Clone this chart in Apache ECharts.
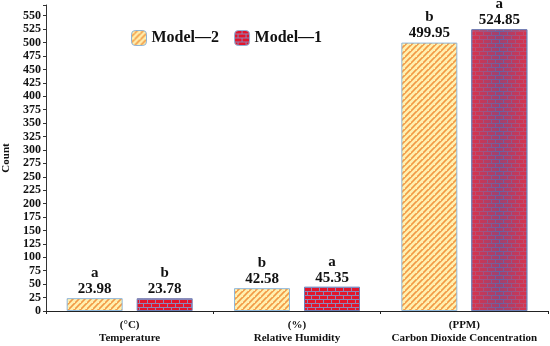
<!DOCTYPE html>
<html><head><meta charset="utf-8">
<script src="https://cdn.jsdelivr.net/npm/echarts@6/dist/echarts.min.js"></script>
<style>html,body{margin:0;padding:0;background:#fff}#c{width:550px;height:346px}</style>
</head><body><div id="c"></div>
<script>
var categories = ['(°C)\nTemperature', '(%)\nRelative Humidity', '(PPM)\nCarbon Dioxide Concentration'];
var model2 = [23.98, 42.58, 499.95];
var model1 = [23.78, 45.35, 524.85];
var letters2 = ['a', 'b', 'b'];
var letters1 = ['b', 'a', 'a'];
var seriesNames = ['Model\u20142', 'Model\u20141'];

function hatchPattern() {
  var c = document.createElement('canvas'); c.width = 6; c.height = 6;
  var g = c.getContext('2d');
  g.fillStyle = '#fff0b0'; g.fillRect(0, 0, 6, 6);
  g.strokeStyle = '#f29a45'; g.lineWidth = 1.6;
  g.beginPath();
  g.moveTo(-1, 7); g.lineTo(7, -1);
  g.moveTo(-1, 1); g.lineTo(1, -1);
  g.moveTo(5, 7); g.lineTo(7, 5);
  g.stroke();
  g.fillStyle = '#fff0b0';
  g.fillRect(2, 2, 1, 1);
  return {image: c, repeat: 'repeat'};
}
function brickPattern(brick, mortar) {
  var c = document.createElement('canvas'); c.width = 8; c.height = 8;
  var g = c.getContext('2d');
  g.fillStyle = mortar; g.fillRect(0, 0, 8, 8);
  g.fillStyle = brick;
  g.fillRect(0, 0, 7, 3);
  g.fillRect(0, 4, 3, 3); g.fillRect(4, 4, 4, 3);
  return {image: c, repeat: 'repeat'};
}
var font = 'Liberation Serif';
var chart = echarts.init(document.getElementById('c'));
var m1data = model1.map(function (v, i) {
  if (i === 2) {
    return {value: v, itemStyle: {
      color: {type: 'linear', x: 0, y: 0, x2: 1, y2: 0, colorStops: [
        {offset: 0, color: '#e0142a'}, {offset: 0.5, color: '#3b3f8c'}, {offset: 1, color: '#e0142a'}]},
      decal: {symbol: 'rect', symbolSize: 1, symbolKeepAspect: false,
        color: 'rgba(235,25,45,0.45)', backgroundColor: 'rgba(170,170,215,0.35)',
        dashArrayX: [[7, 1], [3, 1, 4, 0]], dashArrayY: [3, 1]}
    }};
  }
  return v;
});
var labelStyle = {show: true, position: 'top', distance: 1, fontFamily: font, fontWeight: 'bold', fontSize: 15, color: '#111', lineHeight: 16};
chart.setOption({
  animation: false,
  legend: {
    left: 126, top: 25, itemWidth: 15, itemHeight: 15, itemGap: 15,
    data: seriesNames,
    textStyle: {fontFamily: font, fontWeight: 'bold', fontSize: 16, color: '#111'},
    itemStyle: {borderColor: '#8fb4d8', borderWidth: 1}
  },
  grid: {left: 46, right: 2, top: 5, bottom: 35, outerBoundsMode: 'none', containLabel: false},
  xAxis: {
    type: 'category', data: categories,
    axisLine: {lineStyle: {color: '#222'}},
    axisTick: {show: true, length: 3, lineStyle: {color: '#222'}},
    axisLabel: {interval: 0, hideOverlap: false, fontFamily: font, fontWeight: 'bold', fontSize: 11, color: '#111', lineHeight: 13, margin: 8}
  },
  yAxis: {
    type: 'value', min: 0, max: 570, interval: 25,
    name: 'Count', nameLocation: 'middle', nameGap: 34, nameRotate: 90,
    nameTextStyle: {fontFamily: font, fontWeight: 'bold', fontSize: 11, color: '#111'},
    axisLine: {show: true, lineStyle: {color: '#333'}},
    axisTick: {show: true, length: 3, lineStyle: {color: '#333'}},
    splitLine: {show: false},
    axisLabel: {fontFamily: font, fontWeight: 'bold', fontSize: 12, color: '#111', margin: 5,
      formatter: function (v) { return v % 25 === 0 ? String(v) : ''; }}
  },
  series: [
    {name: seriesNames[0], type: 'bar', data: model2, barWidth: 56, barGap: '25%',
      itemStyle: {color: hatchPattern(), borderColor: '#8fb8dc', borderWidth: 1},
      label: Object.assign({}, labelStyle, {
        formatter: function (p) { return letters2[p.dataIndex] + '\n' + p.value.toFixed(2); }})},
    {name: seriesNames[1], type: 'bar', data: m1data, barWidth: 56,
      itemStyle: {color: brickPattern('#e3152b', '#8e86b8'), borderColor: '#6d7fb8', borderWidth: 1},
      label: Object.assign({}, labelStyle, {
        formatter: function (p) { return letters1[p.dataIndex] + '\n' + p.value.toFixed(2); }})}
  ]
});
</script></body></html>
